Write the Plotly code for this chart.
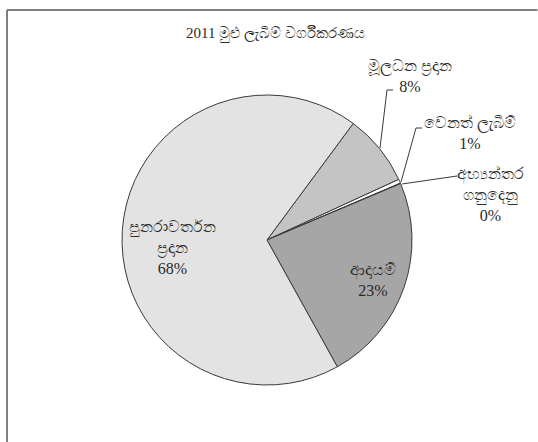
import plotly.graph_objects as go

# ---- data ----
title_text = "2011 මුළු ලැබීම් වර්ගීකරණය"
categories = ["මූලධන ප්‍රදාන", "වෙනත් ලැබීම්", "අභ්‍යන්තර<br>ගනුදෙනු", "ආදායම්", "පුනරාවර්තන<br>ප්‍රදාන"]
values = [8.0, 0.45, 0.05, 23.3, 68.2]
pct_labels = ["8%", "1%", "0%", "23%", "68%"]
slice_colors = ["#c4c4c4", "#ffffff", "#f4f4f4", "#a6a6a6", "#e3e3e3"]

W, H = 538, 442
cx, cy, r = 267, 240, 145

def px(x):
    return x / W

def py(y):
    return 1 - y / H

fig = go.Figure()
fig.add_trace(go.Pie(
    labels=[c.replace("<br>", " ") for c in categories],
    values=values,
    sort=False,
    direction="clockwise",
    rotation=36.5,
    marker=dict(colors=slice_colors, line=dict(color="#3a3a3a", width=1)),
    textinfo="none",
    hoverinfo="label+percent",
    showlegend=False,
    domain=dict(x=[px(cx - r), px(cx + r)], y=[py(cy + r), py(cy - r)]),
))

font = dict(family="Liberation Serif, Times New Roman, serif", size=16, color="#2a2a2a")

# label anchor positions (pixel centers) for each category
label_pos = [(410, 76), (470, 133), (490, 194), (373, 280), (172, 247)]
annotations = []
for cat, pct, (lx, ly) in zip(categories, pct_labels, label_pos):
    annotations.append(dict(
        text=f"{cat}<br>{pct}", x=px(lx), y=py(ly), xref="paper", yref="paper",
        showarrow=False, font=font, align="center", xanchor="center", yanchor="middle",
    ))
annotations.append(dict(
    text=title_text, x=px(275), y=py(34), xref="paper", yref="paper",
    showarrow=False, font=dict(family="Liberation Serif, serif", size=15, color="#2a2a2a"),
    xanchor="center", yanchor="middle",
))

# leader lines
leaders = [
    [(393, 90), (387, 90), (380, 148)],
    [(422, 128), (416, 128), (401, 182)],
    [(457, 176), (402, 184)],
]
shapes = []
for pts in leaders:
    for (x0, y0), (x1, y1) in zip(pts[:-1], pts[1:]):
        shapes.append(dict(type="line", xref="paper", yref="paper",
                           x0=px(x0), y0=py(y0), x1=px(x1), y1=py(y1),
                           line=dict(color="#3a3a3a", width=1)))
# outer frame (only left and top edges are visible)
frame = dict(xref="paper", yref="paper", layer="above", line=dict(color="#808080", width=2))
shapes.append(dict(type="line", x0=px(7), y0=py(10), x1=px(W - 0.5), y1=py(10), **frame))
shapes.append(dict(type="line", x0=px(7), y0=py(10), x1=px(7), y1=py(H), **frame))

fig.update_layout(
    width=W, height=H,
    margin=dict(l=0, r=0, t=0, b=0),
    paper_bgcolor="white", plot_bgcolor="white",
    annotations=annotations, shapes=shapes,
)
fig.write_html("out.html", config={"displayModeBar": False},
               post_script="document.body.style.margin='0';document.body.style.overflow='hidden';")
